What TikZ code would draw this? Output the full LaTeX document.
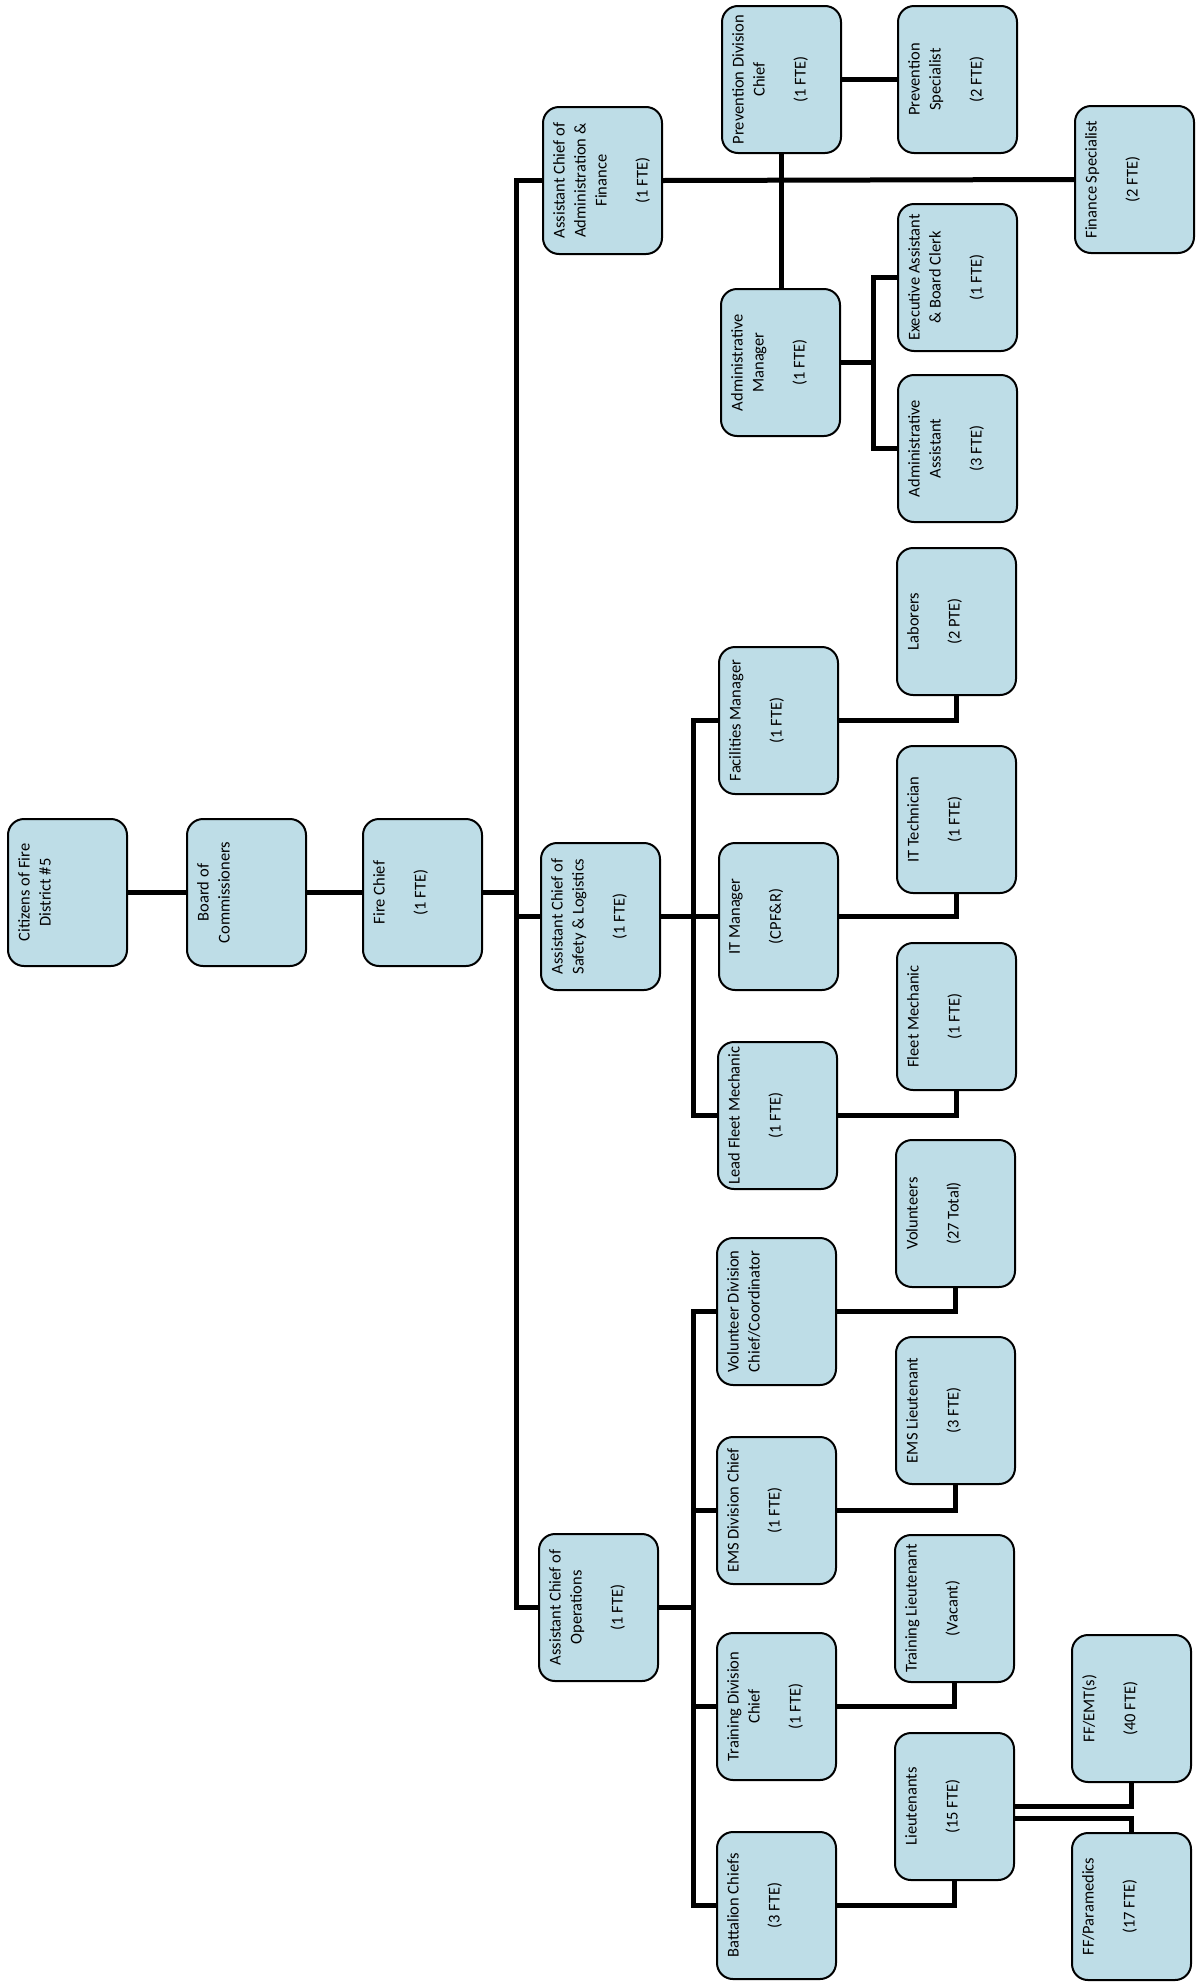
\documentclass[tikz,border=0pt]{standalone}
\usepackage{fontspec}
\setmainfont{Carlito}
\usetikzlibrary{backgrounds}
\definecolor{boxfill}{RGB}{190,221,231}
\tikzset{
  obox/.style={draw=black, line width=2pt, fill=boxfill, rounded corners=16pt,
    minimum width=119pt, minimum height=147pt, inner sep=0pt},
  otext/.style={rotate=90, anchor=north, align=center, inner sep=0pt,
    font=\fontsize{16.5}{21}\selectfont},
  conn/.style={draw=black, line width=5pt, line join=miter, line cap=rect}
}
\newcommand{\obox}[4]{%
  \node[obox] (#1) at ({#2+59.5},{#3+73.5}) {};
  \node[otext] (#1-t) at ([xshift=11pt]#1.west) {#4};
}
\begin{document}
\begin{tikzpicture}[x=1pt,y=-1pt]
\useasboundingbox (0,0) rectangle (1202,1984);
% column 0
\obox{cit}{8}{819}{Citizens of Fire\\District \#5}
\obox{board}{187}{819}{Board of\\Commissioners}
\obox{fire}{363}{819}{Fire Chief\\[20pt](1 FTE)}
% assistant chiefs
\obox{admin}{543}{107}{Assistant Chief of\\Administration \&\\Finance\\[20pt](1 FTE)}
\obox{safety}{541}{843}{Assistant Chief of\\Safety \& Logistics\\[20pt](1 FTE)}
\obox{ops}{539}{1534}{Assistant Chief of\\Operations\\[20pt](1 FTE)}
% administration
\obox{pdc}{722}{6}{Prevention Division\\Chief\\[20pt](1 FTE)}
\obox{ps}{898}{6}{Prevention\\Specialist\\[20pt](2 FTE)}
\obox{fin}{1075}{106}{Finance Specialist\\[20pt](2 FTE)}
\obox{ea}{898}{204}{Executive Assistant\\\& Board Clerk\\[20pt](1 FTE)}
\obox{amgr}{721}{289}{Administrative\\Manager\\[20pt](1 FTE)}
\obox{aa}{898}{375}{Administrative\\Assistant\\[20pt](3 FTE)}
% safety & logistics
\obox{lab}{897}{548}{Laborers\\[20pt](2 PTE)}
\obox{fac}{719}{647}{Facilities Manager\\[20pt](1 FTE)}
\obox{itt}{897}{746}{IT Technician\\[20pt](1 FTE)}
\obox{itm}{719}{843}{IT Manager\\[20pt](CPF\&R)}
\obox{flm}{897}{943}{Fleet Mechanic\\[20pt](1 FTE)}
\obox{lfm}{718}{1042}{Lead Fleet Mechanic\\[20pt](1 FTE)}
% operations
\obox{vol}{896}{1140}{Volunteers\\[20pt](27 Total)}
\obox{vdc}{717}{1238}{Volunteer Division\\Chief/Coordinator}
\obox{emsl}{896}{1337}{EMS Lieutenant\\[20pt](3 FTE)}
\obox{ems}{717}{1437}{EMS Division Chief\\[20pt](1 FTE)}
\obox{tl}{895}{1535}{Training Lieutenant\\[20pt](Vacant)}
\obox{tdc}{717}{1633}{Training Division\\Chief\\[20pt](1 FTE)}
\obox{ffe}{1072}{1635}{FF/EMT(s)\\[20pt](40 FTE)}
\obox{lts}{895}{1733}{Lieutenants\\[20pt](15 FTE)}
\obox{bat}{717}{1832}{Battalion Chiefs\\[20pt](3 FTE)}
\obox{ffp}{1072}{1833}{FF/Paramedics\\[20pt](17 FTE)}
% trunk coordinates
\coordinate (trunk) at (516,0);
\coordinate (st) at (693,0);
\coordinate (am) at (873,0);
\begin{scope}[on background layer]
% top chain
\draw[conn] (cit.east) -- (board.west);
\draw[conn] (board.east) -- (fire.west);
\draw[conn] (fire.east) -- (trunk |- fire.east);
% main trunk
\draw[conn] (admin.west) -- (trunk |- admin.west) -- (trunk |- ops.west) -- (ops.west);
\draw[conn] (safety.west) -- (trunk |- safety.west);
% administration
\draw[conn] (admin.east) -- (fin.west);
\draw[conn] (pdc.east) -- (ps.west);
\draw[conn] (pdc.south) -- (pdc.south |- amgr.north);
\draw[conn] (amgr.east) -- (am |- amgr.east);
\draw[conn] (ea.west) -- (am |- ea.west) -- (am |- aa.west) -- (aa.west);
% safety & logistics
\draw[conn] (safety.east) -- (itm.west);
\draw[conn] (fac.west) -- (st |- fac.west) -- (st |- lfm.west) -- (lfm.west);
\draw[conn] (fac.east) -| (lab.south);
\draw[conn] (itm.east) -| (itt.south);
\draw[conn] (lfm.east) -| (flm.south);
% operations
\draw[conn] (ops.east) -- (st |- ops.east);
\draw[conn] (vdc.west) -- (st |- vdc.west) -- (st |- bat.west) -- (bat.west);
\draw[conn] (ems.west) -- (st |- ems.west);
\draw[conn] (tdc.west) -- (st |- tdc.west);
\draw[conn] (vdc.east) -| (vol.south);
\draw[conn] (ems.east) -| (emsl.south);
\draw[conn] (tdc.east) -| (tl.south);
\draw[conn] (bat.east) -| (lts.south);
\draw[conn] (lts.east) -| (ffe.south);
\draw[conn] ([yshift=-12pt]lts.east) -| (ffp.north);
\end{scope}
\end{tikzpicture}
\end{document}
